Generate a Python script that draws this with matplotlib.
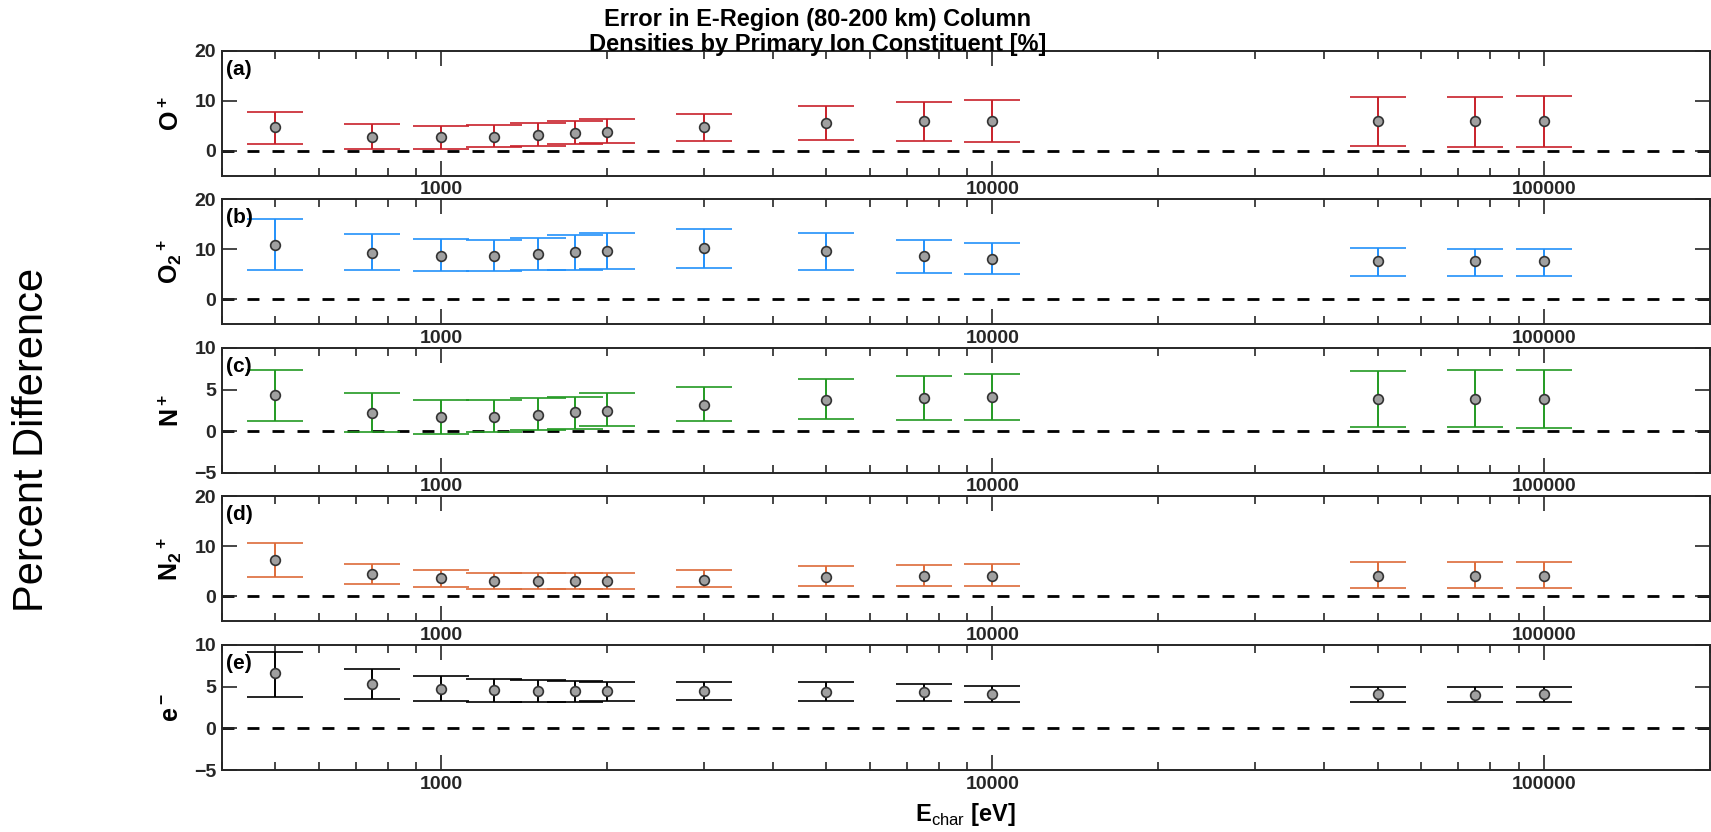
import numpy as np
import matplotlib
matplotlib.use("Agg")
import matplotlib.pyplot as plt
from matplotlib.ticker import LogLocator, FixedLocator, NullFormatter

plt.rcParams['font.family'] = ['Liberation Sans', 'DejaVu Sans']
plt.rcParams['mathtext.fontset'] = 'custom'
plt.rcParams['mathtext.rm'] = 'Liberation Sans'
plt.rcParams['mathtext.bf'] = 'Liberation Sans:bold'

# characteristic energy [eV]
energy = [500, 750, 1000, 1250, 1500, 1750, 2000, 3000, 5000, 7500, 10000, 50000, 75000, 100000]

# (a) O+
op_mean = [4.7, 2.8, 2.8, 2.8, 3.15, 3.5, 3.7, 4.7, 5.6, 5.9, 5.9, 5.9, 5.9, 5.9]
op_upper = [7.85, 5.3, 4.9, 5.2, 5.5, 5.9, 6.3, 7.45, 8.95, 9.8, 10.2, 10.7, 10.7, 10.9]
op_lower = [1.35, 0.35, 0.45, 0.75, 1.0, 1.3, 1.6, 2.0, 2.2, 1.9, 1.75, 1.0, 0.85, 0.85]

# (b) O2+
o2_mean = [10.8, 9.3, 8.7, 8.7, 9.05, 9.4, 9.6, 10.3, 9.65, 8.7, 8.1, 7.6, 7.6, 7.6]
o2_upper = [16.1, 13.1, 12.1, 11.9, 12.2, 12.9, 13.3, 14.05, 13.3, 11.9, 11.2, 10.2, 10.0, 10.0]
o2_lower = [5.95, 5.95, 5.7, 5.7, 5.95, 5.95, 6.1, 6.3, 5.95, 5.3, 5.1, 4.7, 4.7, 4.7]

# (c) N+
np_mean = [4.3, 2.2, 1.75, 1.75, 1.9, 2.3, 2.45, 3.2, 3.8, 3.95, 4.1, 3.9, 3.9, 3.9]
np_upper = [7.4, 4.55, 3.8, 3.8, 3.95, 4.15, 4.55, 5.3, 6.25, 6.65, 6.9, 7.2, 7.3, 7.3]
np_lower = [1.2, -0.1, -0.28, -0.15, 0.15, 0.32, 0.6, 1.17, 1.5, 1.37, 1.3, 0.56, 0.56, 0.4]

# (d) N2+
n2_mean = [7.2, 4.45, 3.6, 3.05, 3.05, 3.0, 3.0, 3.3, 3.9, 4.1, 4.17, 4.17, 4.17, 4.17]
n2_upper = [10.65, 6.55, 5.3, 4.65, 4.65, 4.65, 4.65, 5.3, 6.0, 6.35, 6.55, 6.95, 6.95, 6.95]
n2_lower = [3.9, 2.4, 1.8, 1.45, 1.45, 1.45, 1.4, 1.8, 2.0, 2.0, 2.0, 1.6, 1.6, 1.6]

# (e) e-
el_mean = [6.6, 5.3, 4.75, 4.6, 4.45, 4.45, 4.45, 4.45, 4.4, 4.3, 4.1, 4.1, 4.05, 4.1]
el_upper = [9.1, 7.15, 6.3, 5.9, 5.75, 5.65, 5.55, 5.55, 5.5, 5.3, 5.1, 5.0, 5.0, 5.0]
el_lower = [3.8, 3.5, 3.3, 3.1, 3.1, 3.1, 3.3, 3.4, 3.3, 3.3, 3.15, 3.15, 3.15, 3.15]

panels = [
    ("(a)", r"$\mathbf{O^+}$", op_mean, op_upper, op_lower, "#C8202A", (-5, 20), [0, 10, 20]),
    ("(b)", r"$\mathbf{O_2{}^+}$", o2_mean, o2_upper, o2_lower, "#2391FA", (-5, 20), [0, 10, 20]),
    ("(c)", r"$\mathbf{N^+}$", np_mean, np_upper, np_lower, "#229A22", (-5, 10), [-5, 0, 5, 10]),
    ("(d)", r"$\mathbf{N_2{}^+}$", n2_mean, n2_upper, n2_lower, "#DD6B3A", (-5, 20), [0, 10, 20]),
    ("(e)", r"$\mathbf{e^-}$", el_mean, el_upper, el_lower, "black", (-5, 10), [-5, 0, 5, 10]),
]

fig, axes = plt.subplots(5, 1, figsize=(17.11, 8.32), dpi=100)
fig.subplots_adjust(left=0.1295, right=0.9993, top=0.939, bottom=0.0745, hspace=0.188)

for ax, (tag, lab, mean, up, lo, col, ylim, yt) in zip(axes, panels):
    mean = np.array(mean)
    yerr = [mean - np.array(lo), np.array(up) - mean]
    ax.axhline(0, color='black', lw=2, ls=(0, (4.3, 4.7)), zorder=1)
    ax.errorbar(energy, mean, yerr=yerr, fmt='o', color=col, ecolor=col,
                elinewidth=1.4, capsize=20.5, capthick=1.8,
                mfc='#A0A0A0', mec='#333333', mew=1.2, ms=7, zorder=3)
    ax.set_xscale('log')
    ax.set_xlim(400, 200000)
    ax.set_ylim(*ylim)
    ax.set_yticks(yt)
    ax.xaxis.set_major_locator(FixedLocator([1000, 10000, 100000]))
    ax.xaxis.set_minor_locator(LogLocator(base=10, subs=np.arange(2, 10)))
    ax.xaxis.set_minor_formatter(NullFormatter())
    ax.set_xticklabels(['1000', '10000', '100000'])
    ax.tick_params(which='both', direction='in', top=True, right=True,
                   colors='#262626', width=1.2, labelsize=14)
    ax.tick_params(which='major', length=11, pad=4)
    ax.tick_params(which='minor', length=6)
    for lbl in ax.get_xticklabels() + ax.get_yticklabels():
        lbl.set_fontweight('bold')
    for s in ax.spines.values():
        s.set_color('#262626')
        s.set_linewidth(1.4)
    ax.text(0.003, 0.93, tag, transform=ax.transAxes, ha='left', va='top',
            fontsize=15, fontweight='bold')
    ax.set_ylabel(lab, fontsize=18)
    ax.yaxis.set_label_coords(-0.025, 0.5)

axes[-1].set_xlabel(r"$\mathbf{E}_{\mathrm{char}}$ [eV]", fontsize=17, fontweight='bold', labelpad=6)

fig.text(0.478, 0.962, "Error in E-Region (80-200 km) Column\nDensities by Primary Ion Constituent [%]",
         ha='center', va='center', fontsize=17, fontweight='bold', linespacing=1.12)
fig.text(0.0185, 0.471, "Percent Difference", rotation=90, ha='center', va='center', fontsize=30)

fig.savefig("out.png", dpi=100, facecolor='white')
